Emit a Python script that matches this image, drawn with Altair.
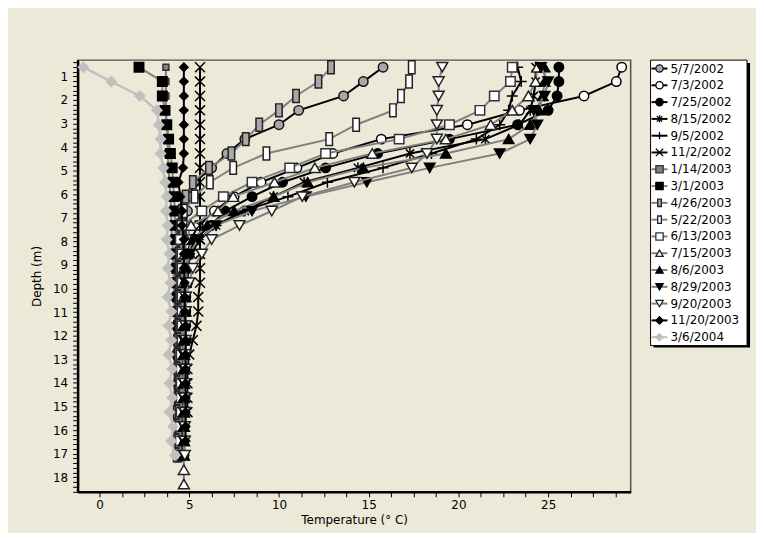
import altair as alt
import pandas as pd

# depth grid (m), one reading every 2 ft
DEPTHS = [0.61, 1.22, 1.83, 2.44, 3.05, 3.66, 4.27, 4.88, 5.49, 6.10, 6.71, 7.32, 7.92, 8.53, 9.14,
          9.75, 10.36, 10.97, 11.58, 12.19, 12.80, 13.41, 14.02, 14.63, 15.24, 15.85, 16.46, 17.07,
          17.68, 18.29]

LABELS = ["5/7/2002", "7/3/2002", "7/25/2002", "8/15/2002", "9/5/2002", "11/2/2002",
          "1/14/2003", "3/1/2003", "4/26/2003", "5/22/2003", "6/13/2003", "7/15/2003",
          "8/6/2003", "8/29/2003", "9/20/2003", "11/20/2003", "3/6/2004"]

T_20020507 = [15.8, 14.7, 13.6, 11.1, 10.0, 8.1, 7.1, 6.25, 5.3, 5.0, 4.9, 4.8, 4.8, 4.7, 4.7, 4.7,
              4.6, 4.6, 4.6, 4.6, 4.6, 4.6, 4.5, 4.5, 4.5, 4.5, 4.5, 4.5]
T_20020703 = [29.1, 28.8, 27.0, 23.4, 20.5, 15.7, 13.0, 11.0, 9.0, 7.5, 6.4, 5.5, 5.1, 4.9, 4.9, 4.8,
              4.8, 4.8, 4.7, 4.7, 4.7, 4.7, 4.7, 4.7, 4.6, 4.6, 4.6, 4.6]
T_20020725 = [25.6, 25.6, 25.5, 25.0, 23.3, 19.5, 15.5, 12.6, 10.2, 8.5, 7.0, 6.2, 5.3, 5.0, 4.9, 4.9,
              4.8, 4.8, 4.8, 4.8, 4.7, 4.7, 4.7, 4.7, 4.7, 4.7, 4.7, 4.7]
T_20020815 = [24.3, 24.3, 24.2, 24.0, 23.4, 21.5, 17.3, 14.4, 11.4, 9.7, 8.1, 6.5, 5.6, 5.1, 4.9, 4.9,
              4.8, 4.8, 4.8, 4.8, 4.7, 4.7, 4.7, 4.7, 4.7, 4.7, 4.7, 4.7]
T_20020905 = [23.3, 23.5, 23.0, 22.8, 22.3, 21.0, 18.5, 15.8, 12.7, 10.5, 8.0, 6.5, 5.5, 5.0, 4.9, 4.9,
              4.8, 4.8, 4.8, 4.8, 4.8, 4.7, 4.7, 4.7, 4.7, 4.7, 4.7, 4.7]
T_20021102 = [5.6, 5.6, 5.6, 5.6, 5.6, 5.6, 5.6, 5.6, 5.6, 5.6, 5.6, 5.6, 5.6, 5.6, 5.6, 5.6,
              5.5, 5.5, 5.4, 5.2, 5.0, 4.9, 4.9, 4.9, 4.9]
T_20030114 = [3.7, 3.7, 3.7, 3.7, 3.75, 3.8, 3.8, 3.85, 3.9, 3.95, 4.0, 4.0, 4.05, 4.1, 4.1, 4.15,
              4.15, 4.2, 4.2, 4.2, 4.25, 4.25, 4.3, 4.3, 4.3, 4.3, 4.3, 4.3]
T_20030301 = [2.2, 3.5, 3.5, 3.65, 3.75, 3.85, 3.95, 4.05, 4.1, 4.15, 4.2, 4.2, 4.25, 4.25, 4.3, 4.3,
              4.35, 4.35, 4.4, 4.4, 4.4, 4.4, 4.45, 4.45, 4.45, 4.45, 4.5, 4.5]
T_20030426 = [12.9, 12.2, 10.95, 10.0, 8.9, 8.15, 7.35, 6.1, 5.2, 4.8, 4.6, 4.5, 4.5, 4.4, 4.4, 4.4,
              4.4, 4.4, 4.4, 4.35, 4.35, 4.35, 4.35, 4.35, 4.3, 4.3, 4.3, 4.3]
T_20030522 = [17.4, 17.25, 16.8, 16.35, 14.3, 12.8, 9.3, 7.45, 6.15, 5.3, 4.7, 4.6, 4.6, 4.5, 4.5, 4.5,
              4.5, 4.5, 4.45, 4.45, 4.45, 4.45, 4.4, 4.4, 4.4, 4.4, 4.4, 4.4]
T_20030613 = [23.0, 22.9, 22.0, 21.2, 19.5, 16.7, 12.6, 10.6, 8.5, 6.9, 5.7, 4.6, 4.5, 4.6, 4.6, 4.6,
              4.6, 4.6, 4.6, 4.6, 4.55, 4.55, 4.55, 4.55, 4.55, 4.5, 4.5, 4.5]
T_20030715 = [24.4, 24.3, 23.9, 23.0, 21.8, 19.3, 15.2, 12.0, 9.75, 7.45, 6.6, 5.1, 4.85, 4.75, 4.7,
              4.7, 4.7, 4.7, 4.7, 4.7, 4.7, 4.7, 4.7, 4.7, 4.7, 4.7, 4.7, 4.7, 4.7, 4.7]
T_20030806 = [24.8, 24.8, 24.7, 24.5, 24.0, 22.8, 19.3, 14.7, 11.6, 9.7, 7.5, 6.0, 5.2, 4.9, 4.8, 4.8,
              4.8, 4.8, 4.7, 4.7, 4.7, 4.7, 4.7, 4.7, 4.7, 4.7, 4.7, 4.7]
T_20030829 = [24.6, 25.0, 24.8, 24.2, 24.4, 24.0, 22.3, 18.4, 14.9, 11.5, 8.5, 6.5, 5.5, 5.0, 4.9, 4.8,
              4.8, 4.8, 4.8, 4.7, 4.7, 4.7, 4.7, 4.7, 4.7, 4.7, 4.7, 4.7]
T_20030920 = [19.1, 18.9, 18.9, 18.8, 18.8, 18.8, 18.25, 17.4, 14.2, 11.3, 9.6, 7.8, 6.25, 5.7, 5.2,
              5.0, 4.8, 4.8, 4.8, 4.8, 4.8, 4.8, 4.75, 4.75, 4.75, 4.75, 4.75, 4.75]
T_20031120 = [4.7, 4.7, 4.7, 4.7, 4.7, 4.7, 4.7, 4.65, 4.4, 4.5, 4.6, 4.6, 4.7, 4.7, 4.7, 4.75,
              4.75, 4.75, 4.8, 4.8, 4.8, 4.8, 4.8, 4.8, 4.8, 4.8, 4.8]
T_20040306 = [-0.9, 0.65, 2.25, 3.2, 3.3, 3.4, 3.4, 3.55, 3.65, 3.75, 3.7, 3.8, 3.75, 3.9, 3.8, 3.95,
              3.8, 4.0, 3.85, 4.0, 3.85, 4.05, 3.9, 4.05, 3.9, 4.1, 4.0, 4.2]

VALUES = [T_20020507, T_20020703, T_20020725, T_20020815, T_20020905, T_20021102,
          T_20030114, T_20030301, T_20030426, T_20030522, T_20030613, T_20030715,
          T_20030806, T_20030829, T_20030920, T_20031120, T_20040306]

# styles (shape, fill, stroke, size, line colour)
TALL = "M-0.5,-1L0.5,-1L0.5,1L-0.5,1Z"
XMARK = "M-1,-1L1,1M-1,1L1,-1"
AST = "M0,-1L0,1M-0.75,-0.75L0.75,0.75M-0.75,0.75L0.75,-0.75"
PLUS = "M0,-1L0,1M-1,0L1,0"
BLK, GRY, LGRY = "#000000", "#808080", "#c0c0c0"
STYLES = [
    ("circle", "#a8a8a8", "#111111", 90, BLK),
    ("circle", "#ffffff", "#000000", 90, BLK),
    ("circle", "#000000", "#000000", 90, BLK),
    (AST, "#000000", "#000000", 121, BLK),
    (PLUS, "#000000", "#000000", 121, BLK),
    (XMARK, "#000000", "#000000", 100, BLK),
    ("square", "#808080", "#333333", 36, GRY),
    ("square", "#000000", "#000000", 90, GRY),
    (TALL, "#a8a8a8", "#222222", 169, GRY),
    (TALL, "#ffffff", "#222222", 169, GRY),
    ("square", "#ffffff", "#333333", 90, GRY),
    ("triangle-up", "#ffffff", "#222222", 121, GRY),
    ("triangle-up", "#000000", "#000000", 110, GRY),
    ("triangle-down", "#000000", "#000000", 110, GRY),
    ("triangle-down", "#ffffff", "#222222", 121, GRY),
    ("diamond", "#000000", "#000000", 70, BLK),
    ("diamond", "#c0c0c0", "#c0c0c0", 100, LGRY),
]

FONT = "DejaVu Sans"
FS = 12
X_TICKS = [0, 1.25, 2.5, 3.75, 5, 6.25, 7.5, 8.75, 10, 11.25, 12.5, 13.75, 15, 16.25, 17.5, 18.75,
           20, 21.25, 22.5, 23.75, 25, 26.25, 27.5, 28.75]
Y_TICKS = [round(0.4 + 0.2 * i, 1) for i in range(92)]

x_enc = alt.X("temp:Q", title="Temperature (° C)",
              scale=alt.Scale(domain=[-1.22, 29.6], nice=False, zero=False),
              axis=alt.Axis(values=X_TICKS, grid=False, domainColor="#000", domainWidth=2.5,
                            tickColor="#000", tickSize=5, tickWidth=1, labelPadding=3,
                            labelExpr="abs(datum.value/5 - round(datum.value/5)) < 0.001 ? format(datum.value, 'd') : ''",
                            labelOverlap=False, labelFlush=False, labelFont=FONT, labelFontSize=FS,
                            labelColor="#000", titleFont=FONT, titleFontSize=FS,
                            titleFontWeight="normal", titleColor="#000", titlePadding=4))
y_enc = alt.Y("depth:Q", title="Depth (m)",
              scale=alt.Scale(domain=[0.31, 18.62], nice=False, zero=False, reverse=True),
              axis=alt.Axis(values=Y_TICKS, grid=False, domainColor="#000", domainWidth=2.5,
                            tickColor="#000", tickSize=5, tickWidth=1, labelPadding=5,
                            labelExpr="abs(datum.value - round(datum.value)) < 0.001 ? format(datum.value, 'd') : ''",
                            labelOverlap=False, labelFlush=False, labelFont=FONT, labelFontSize=FS,
                            labelColor="#000", titleFont=FONT, titleFontSize=FS,
                            titleFontWeight="normal", titleColor="#000", titlePadding=9))

layers = []
for lab, vals, (shape, fill, stroke, size, lc) in zip(LABELS, VALUES, STYLES):
    df = pd.DataFrame({"temp": vals, "depth": DEPTHS[:len(vals)], "date": lab})
    base = alt.Chart(df)
    layers.append(base.mark_line(color=lc, strokeWidth=2 if lc != LGRY else 2.5).encode(
        x=x_enc, y=y_enc, order=alt.Order("depth:Q")))
    layers.append(base.mark_point(shape=shape, filled=True, fill=fill, stroke=stroke,
                                  strokeWidth=1.5, size=size, opacity=1).encode(x=x_enc, y=y_enc))

main = alt.layer(*layers).properties(
    width=556, height=434,
    view=alt.ViewBackground(stroke="#505050", strokeWidth=1.5))

# legend
LW, LH = 97, 287
leg_df = pd.DataFrame({"date": LABELS})
ydate = alt.Y("date:N", sort=LABELS, axis=None,
              scale=alt.Scale(type="point", padding=0.5, domain=LABELS))
box = pd.DataFrame({"a": [0]})
shadow = alt.Chart(box).mark_rect(color="#000").encode(
    x=alt.value(3), x2=alt.value(LW + 3), y=alt.value(3), y2=alt.value(LH + 2))
panel = alt.Chart(box).mark_rect(fill="#fff", stroke="#000", strokeWidth=1).encode(
    x=alt.value(0), x2=alt.value(LW), y=alt.value(0), y2=alt.value(LH))
leg_lines = alt.Chart(leg_df).mark_rule(strokeWidth=2).encode(
    x=alt.value(1), x2=alt.value(17), y=ydate,
    color=alt.Color("date:N", scale=alt.Scale(domain=LABELS, range=[s[4] for s in STYLES]), legend=None))
leg_pts = alt.Chart(leg_df).mark_point(filled=True, strokeWidth=1.3, opacity=1).encode(
    x=alt.value(9), y=ydate,
    shape=alt.Shape("date:N", scale=alt.Scale(domain=LABELS, range=[s[0] for s in STYLES]), legend=None),
    fill=alt.Fill("date:N", scale=alt.Scale(domain=LABELS, range=[s[1] for s in STYLES]), legend=None),
    stroke=alt.Stroke("date:N", scale=alt.Scale(domain=LABELS, range=[s[2] for s in STYLES]), legend=None),
    size=alt.Size("date:N", scale=alt.Scale(domain=LABELS, range=[s[3] * 0.6 for s in STYLES]), legend=None))
leg_txt = alt.Chart(leg_df).mark_text(align="left", baseline="middle", font=FONT, fontSize=FS,
                                      color="#000").encode(x=alt.value(20), y=ydate, text="date:N")
legend = alt.layer(shadow, panel, leg_lines, leg_pts, leg_txt).resolve_scale(
    color="independent", shape="independent", fill="independent", stroke="independent",
    size="independent").properties(width=LW, height=LH)

chart = alt.hconcat(main, legend, spacing=18).properties(
    padding={"left": 21, "top": 46, "right": 5, "bottom": 5},
    background="#ECE9D8"
).configure_view(stroke="transparent")

chart.save("out.html", embed_options={"renderer": "svg", "actions": False})
